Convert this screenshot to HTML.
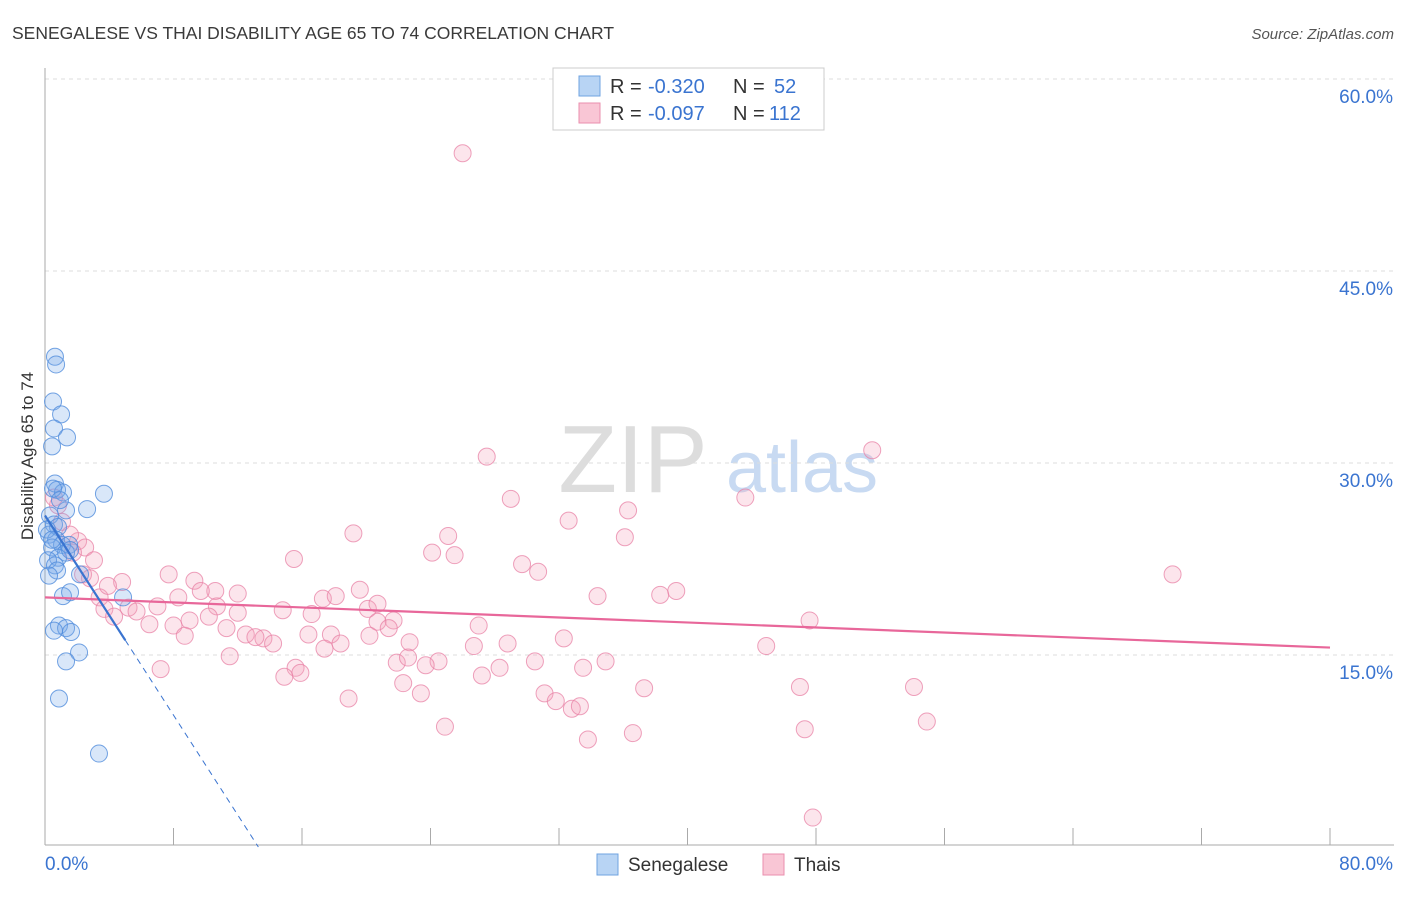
<!DOCTYPE html>
<html><head><meta charset="utf-8"><style>
body{margin:0;background:#fff;font-family:"Liberation Sans",sans-serif;}
svg text{font-family:"Liberation Sans",sans-serif;}
</style></head><body>
<svg id="chart" width="1406" height="892" viewBox="0 0 1406 892" xmlns="http://www.w3.org/2000/svg">
<text x="12" y="39" font-size="17.5" fill="#3a3a3a">SENEGALESE VS THAI DISABILITY AGE 65 TO 74 CORRELATION CHART</text>
<text x="1394" y="39" font-size="15" fill="#555" text-anchor="end" font-style="italic">Source: ZipAtlas.com</text>
<text transform="translate(33,456) rotate(-90)" font-size="17" fill="#333" text-anchor="middle">Disability Age 65 to 74</text>
<g><text x="633" y="492" font-size="96" fill="#ddd" text-anchor="middle" font-family="Liberation Serif, serif">ZIP</text><text x="802" y="492" font-size="72" fill="#c8daf2" text-anchor="middle">atlas</text></g>
<g id="grid"></g><g id="axes"></g><g id="marks"></g>
<g>
<rect x="553" y="68" width="271" height="62" fill="#fff" stroke="#ccc"/>
<rect x="579" y="76" width="21" height="20" fill="#b8d4f4" stroke="#6fa3e0"/>
<text x="610" y="93" font-size="20" fill="#333">R = </text><text x="648" y="93" font-size="20" fill="#3a74d0">-0.320</text>
<text x="733" y="93" font-size="20" fill="#333">N = </text><text x="774" y="93" font-size="20" fill="#3a74d0">52</text>
<rect x="579" y="103" width="21" height="20" fill="#f9c6d5" stroke="#ea8fae"/>
<text x="610" y="120" font-size="20" fill="#333">R = </text><text x="648" y="120" font-size="20" fill="#3a74d0">-0.097</text>
<text x="733" y="120" font-size="20" fill="#333">N = </text><text x="769" y="120" font-size="20" fill="#3a74d0">112</text>
</g>
<g>
<rect x="597" y="854" width="21" height="21" fill="#b8d4f4" stroke="#6fa3e0"/>
<text x="628" y="871" font-size="19" fill="#333">Senegalese</text>
<rect x="763" y="854" width="21" height="21" fill="#f9c6d5" stroke="#ea8fae"/>
<text x="794" y="871" font-size="19" fill="#333">Thais</text>
</g>
</svg>
<script>
const xTicks=[0,8,16,24,32,40,48,56,64,72,80];
const yTicks=[15,30,45,60];
const yTickLabels=["15.0%","30.0%","45.0%","60.0%"];
const blueX=[0.62,0.69,0.5,1.0,0.56,1.37,0.44,0.62,0.75,1.12,3.67,2.62,1.31,0.31,0.56,0.81,0.25,0.69,1.06,1.5,0.44,1.31,0.81,0.19,0.62,0.75,0.25,2.18,4.86,1.12,1.56,0.87,1.31,1.62,0.56,2.12,1.31,0.87,3.36,0.5,0.93,0.12,1.56,0.44];
const blueY=[38.3,37.7,34.8,33.8,32.7,32.0,31.3,28.4,27.9,27.7,27.6,26.4,26.3,25.9,25.2,25.0,24.4,24.0,23.6,23.6,23.4,23.0,22.6,22.4,22.0,21.6,21.2,21.3,19.5,19.6,19.9,17.3,17.1,16.8,16.9,15.2,14.5,11.6,7.3,28.0,27.1,24.8,23.2,24.0];
const pinkX=[26.0,27.5,51.5,29.0,43.6,36.3,32.6,19.2,25.1,36.1,24.1,25.5,15.5,29.7,30.7,70.2,7.7,9.3,4.8,12.0,10.6,8.3,9.7,19.6,17.3,18.1,10.7,7.0,5.2,5.7,3.4,3.7,4.3,6.5,9.0,8.0,10.2,12.0,14.8,16.6,20.1,20.7,21.7,20.7,21.4,11.3,12.5,13.6,14.2,13.1,16.4,17.8,18.4,17.4,8.7,20.2,22.7,27.0,32.3,34.4,38.3,39.3,47.6,44.9,26.7,28.8,24.5,21.9,22.6,23.7,30.5,28.3,33.5,34.9,15.6,15.9,14.9,7.2,11.5,22.3,23.4,27.2,37.3,18.9,31.1,31.8,32.8,33.3,24.9,33.8,36.6,47.0,54.1,54.9,47.3,47.8,2.06,2.5,3.05,1.74,2.37,2.8,1.06,0.81,1.56,0.56,3.92,36.7];
const pinkY=[54.2,30.5,31.0,27.2,27.3,26.3,25.5,24.5,24.3,24.2,23.0,22.8,22.5,22.1,21.5,21.3,21.3,20.8,20.7,19.8,20.0,19.5,20.0,20.1,19.4,19.6,18.8,18.8,18.7,18.4,19.5,18.6,18.0,17.4,17.7,17.3,18.0,18.3,18.5,18.2,18.6,19.0,17.7,17.6,17.1,17.1,16.6,16.3,15.9,16.4,16.6,16.6,15.9,15.5,16.5,16.5,16.0,17.3,16.3,19.6,19.7,20.0,17.7,15.7,15.7,15.9,14.5,14.4,14.8,14.2,14.5,14.0,14.0,14.5,14.0,13.6,13.3,13.9,14.9,12.8,12.0,13.4,12.4,11.6,12.0,11.4,10.8,11.0,9.4,8.4,8.9,12.5,12.5,9.8,9.2,2.3,23.9,23.4,22.4,23.0,21.3,21.0,25.4,26.7,24.4,27.3,20.4,59.5];
const blueTrend=[25.9,-1.95];
const pinkTrend=[19.5,-0.049];
const NS="http://www.w3.org/2000/svg";
const X=v=>45+v*(1285/80);
const Y=v=>847-v*12.8;
function mk(p,t,a){const e=document.createElementNS(NS,t);for(const k in a)e.setAttribute(k,a[k]);p.appendChild(e);return e;}
const grid=document.getElementById('grid'),axes=document.getElementById('axes'),marks=document.getElementById('marks');
yTicks.forEach((t,i)=>{
 const l=mk(grid,'line',{x1:45,x2:1394,y1:Y(t),y2:Y(t),stroke:'#ddd','stroke-dasharray':'4,4'});
 
 
 const tx=mk(axes,'text',{x:1393,y:Y(t)+24,'font-size':19,fill:'#3a74d0','text-anchor':'end'});tx.textContent=yTickLabels[i];
 
 
});
const ya=mk(axes,'line',{x1:45,x2:45,y1:68,y2:845,stroke:'#aaa'});


const xa=mk(axes,'line',{x1:45,x2:1394,y1:845,y2:845,stroke:'#aaa'});


xTicks.forEach(t=>{
 const l=mk(axes,'line',{x1:X(t),x2:X(t),y1:828,y2:845,stroke:'#aaa'});
 
 
});
const xl0=mk(axes,'text',{x:45,y:870,'font-size':19,fill:'#3a74d0'});xl0.textContent='0.0%';


const xl1=mk(axes,'text',{x:1393,y:870,'font-size':19,fill:'#3a74d0','text-anchor':'end'});xl1.textContent='80.0%';


pinkX.forEach((v,i)=>{
 const c=mk(marks,'circle',{cx:X(v),cy:Y(pinkY[i]),r:8.5,fill:'rgba(244,160,188,0.28)',stroke:'rgba(232,130,165,0.75)','stroke-width':1});
 
 
});
blueX.forEach((v,i)=>{
 const c=mk(marks,'circle',{cx:X(v),cy:Y(blueY[i]),r:8.5,fill:'rgba(120,170,235,0.28)',stroke:'rgba(80,140,220,0.8)','stroke-width':1});
 
 
});
const pt=mk(marks,'line',{x1:X(0),y1:Y(pinkTrend[0]),x2:X(80),y2:Y(pinkTrend[0]+pinkTrend[1]*80),stroke:'#e8679a','stroke-width':2.2});


const bt=mk(marks,'line',{x1:X(0),y1:Y(blueTrend[0]),x2:X(5),y2:Y(blueTrend[0]+blueTrend[1]*5),stroke:'#3a74d0','stroke-width':2.2});


const xe=-blueTrend[0]/blueTrend[1];
const bd=mk(marks,'line',{x1:X(5),y1:Y(blueTrend[0]+blueTrend[1]*5),x2:X(xe),y2:Y(0),stroke:'#3a74d0','stroke-width':1,'stroke-dasharray':'6,5'});


</script>
</body></html>
